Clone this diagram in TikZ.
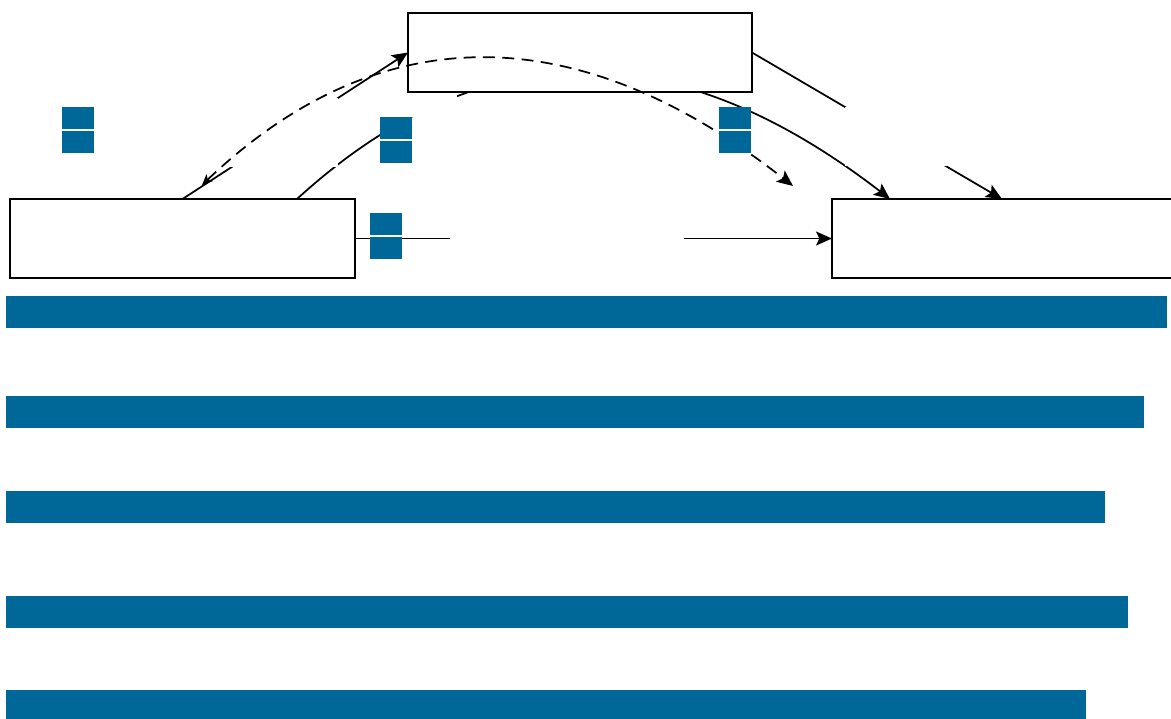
\documentclass[tikz,border=0pt]{standalone}
\usetikzlibrary{arrows.meta,calc}
\definecolor{barblue}{RGB}{0,103,153}
\pgfdeclarelayer{bg}
\pgfdeclarelayer{fg}
\pgfsetlayers{bg,main,fg}
\begin{document}
\begin{tikzpicture}[x=0.75pt,y=-0.75pt,
  box/.style={draw=black, line width=1.2pt, fill=white, inner sep=0pt, outer sep=0pt, minimum height=79*0.75pt},
  conn/.style={line width=1.3pt, draw=black},
  arr/.style={conn, -{Stealth[length=12pt,width=10.5pt,inset=2.5pt]}},
  gapbox/.style={fill=white, draw=none, inner sep=0pt, outer sep=0pt},
  chip/.style={fill=barblue, draw=none, inner sep=0pt, outer sep=0pt, minimum width=32*0.75pt, minimum height=22*0.75pt},
  bar/.style={fill=barblue, draw=none, inner sep=0pt, outer sep=0pt, anchor=north west, minimum height=32*0.75pt}]
\useasboundingbox (0,0) rectangle (1171,718);
\clip (0,0) rectangle (1171,718);

% main boxes
\node[box, minimum width=345*0.75pt] (A) at (182.5,238.5) {};
\node[box, minimum width=344*0.75pt] (B) at (580,52.5) {};
\node[box, minimum width=340*0.75pt] (C) at (1002,238.5) {};

% empty label areas on connectors
\node[gapbox, minimum width=108*0.75pt, minimum height=69*0.75pt] (l1) at (284,132.5) {};
\node[gapbox, minimum width=50*0.75pt, minimum height=22*0.75pt] (l2) at (432,106) {};
\node[gapbox, minimum width=234*0.75pt, minimum height=36*0.75pt] (l3) at (567,238.5) {};
\node[gapbox, minimum width=102*0.75pt, minimum height=59*0.75pt] (l4) at (896,136.5) {};

% solid connectors (behind)
\begin{pgfonlayer}{bg}
\draw[arr] (A.north) -- (B.west);
\draw[arr] ([xshift=-43.5pt]A.north east) .. controls (489,23.5) and (684,40) .. ([xshift=43.5pt]C.north west);
\draw[arr] (B.east) -- (C.north);
\draw[arr] (A.east) -- (C.west);
\end{pgfonlayer}

\begin{pgfonlayer}{fg}
% dashed connector
\coordinate (ds) at (202,185);
\coordinate (de) at (793,186);
\draw[conn, dash pattern=on 9pt off 5.5pt,
  {Stealth[length=8pt,width=7pt,inset=2pt]}-{Stealth[length=12pt,width=10.5pt,inset=2.5pt]}]
  (ds) .. controls (378.7,17) and (576.3,16) .. (de);

% blue markers
\node[chip] (s1a) at (78,118) {};
\node[chip] (s1b) at (78,142) {};
\node[chip] (s2a) at (396,128) {};
\node[chip] (s2b) at (396,152) {};
\node[chip] (s3a) at (386,224) {};
\node[chip] (s3b) at (386,248) {};
\node[chip] (s4a) at (735,118) {};
\node[chip] (s4b) at (735,142) {};

% blue bars
\node[bar, minimum width=1161*0.75pt] (bar1) at (6,296) {};
\node[bar, minimum width=1138*0.75pt] (bar2) at (6,396) {};
\node[bar, minimum width=1099*0.75pt] (bar3) at (6,491) {};
\node[bar, minimum width=1122*0.75pt] (bar4) at (6,596) {};
\node[bar, minimum width=1080*0.75pt] (bar5) at (6,690) {};
\end{pgfonlayer}
\end{tikzpicture}
\end{document}
